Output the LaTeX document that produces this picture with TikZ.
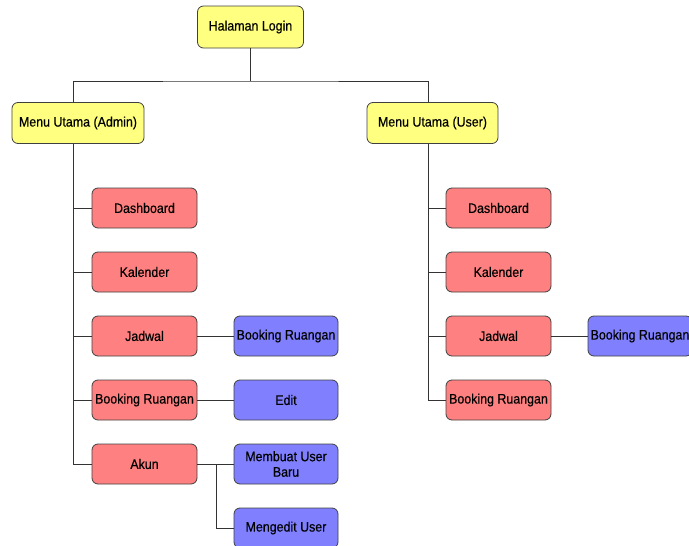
\documentclass[tikz,border=0pt]{standalone}
\usepackage{fontspec}
\setmainfont{Liberation Sans}[FakeStretch=0.9,FakeBold=0.4]
\begin{document}
\begin{tikzpicture}[x=1pt,y=-1pt,
  box/.style={draw=black!75,line width=0.8pt,rounded corners=6pt,minimum height=41pt,inner sep=1pt,font=\fontsize{13.8}{15.5}\selectfont,align=center},
  yel/.style={box,fill={rgb,255:red,255;green,255;blue,128}},
  red/.style={box,fill={rgb,255:red,255;green,128;blue,128},minimum width=105pt,minimum height=40pt},
  blu/.style={box,fill={rgb,255:red,128;green,128;blue,255},minimum width=104pt,minimum height=40pt},
  conn/.style={draw=black!80,line width=0.8pt}]
\useasboundingbox (0,0) rectangle (689,546);
\clip (0,0) rectangle (689,546);
\node[yel,minimum width=106pt,minimum height=42pt] (login) at (250.5,27) {Halaman Login};
\node[yel,minimum width=132pt] (admin) at (78,123) {Menu Utama (Admin)};
\node[yel,minimum width=131pt] (user) at (432.5,123) {Menu Utama (User)};
\coordinate (j) at (250.5,81);
\draw[conn] (login.south) -- (j);
\draw[conn] (admin.north -| 73,0) |- (j) -| (user.north -| 428,0);
% admin
\node[red] (ad1) at (144.5,208) {Dashboard};
\node[red] (ad2) at (144.5,272) {Kalender};
\node[red] (ad3) at (144.5,336) {Jadwal};
\node[red] (ad4) at (144.5,400) {Booking Ruangan};
\node[red] (ad5) at (144.5,464) {Akun};
\coordinate (at) at (73,464);
\draw[conn] (admin.south -| at) -- (at);
\foreach \n in {ad1,ad2,ad3,ad4,ad5} \draw[conn] (\n.west -| at) -- (\n.west);
\node[blu] (ab1) at (286,336) {Booking Ruangan};
\node[blu] (ab2) at (286,400) {Edit};
\node[blu] (ab3) at (286,464) {Membuat User\\Baru};
\node[blu] (ab4) at (286,528) {Mengedit User};
\draw[conn] (ad3.east) -- (ab1.west);
\draw[conn] (ad4.east) -- (ab2.west);
\draw[conn] (ad5.east) -- (ab3.west);
\coordinate (ak) at (216,464);
\draw[conn] (ak) |- (ab4.west);
% user
\node[red] (us1) at (498.5,208) {Dashboard};
\node[red] (us2) at (498.5,272) {Kalender};
\node[red] (us3) at (498.5,336) {Jadwal};
\node[red] (us4) at (498.5,400) {Booking Ruangan};
\coordinate (ut) at (428,400);
\draw[conn] (user.south -| ut) -- (ut);
\foreach \n in {us1,us2,us3,us4} \draw[conn] (\n.west -| ut) -- (\n.west);
\node[blu] (ub1) at (640,336) {Booking Ruangan};
\draw[conn] (us3.east) -- (ub1.west);
\end{tikzpicture}
\end{document}
